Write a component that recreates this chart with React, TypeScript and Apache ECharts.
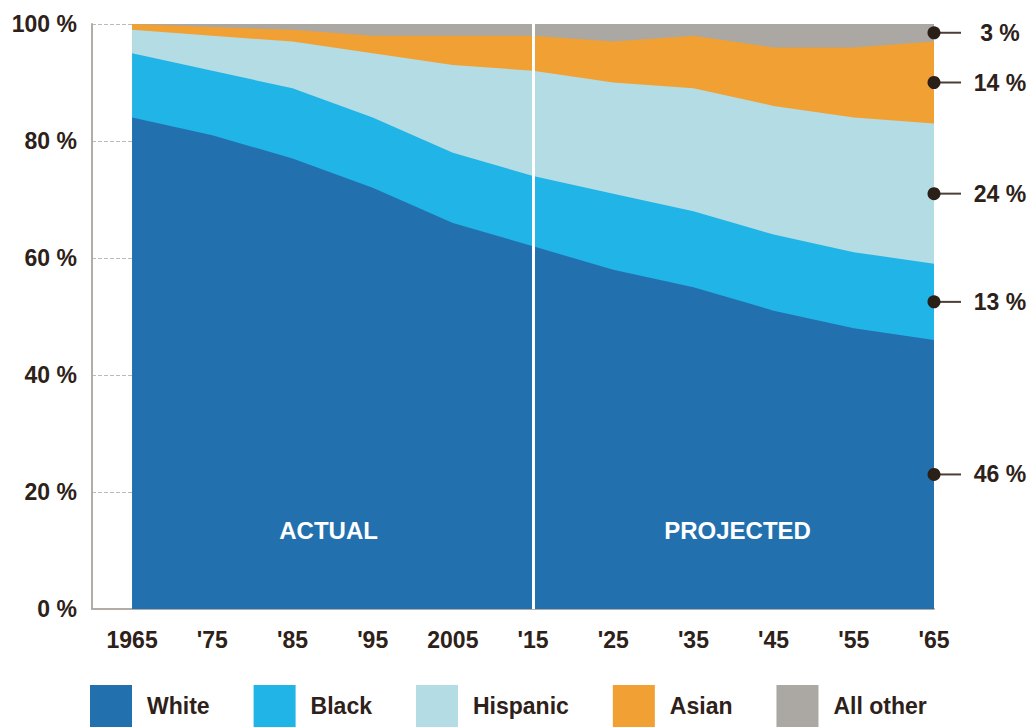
import React, { useEffect, useRef } from "react";
import * as echarts from "echarts";

const years = [1965, 1975, 1985, 1995, 2005, 2015, 2025, 2035, 2045, 2055, 2065];
const yearLabels = ["1965", "'75", "'85", "'95", "2005", "'15", "'25", "'35", "'45", "'55", "'65"];
const white = [84, 81, 77, 72, 66, 62, 58, 55, 51, 48, 46];
const black = [11, 11, 12, 12, 12, 12, 13, 13, 13, 13, 13];
const hispanic = [4, 6, 8, 11, 15, 18, 19, 21, 22, 23, 24];
const asian = [1, 1.5, 2, 3, 5, 6, 7, 9, 10, 12, 14];
const allOther = [0, 0.5, 1, 2, 2, 2, 3, 2, 4, 4, 3];
const seriesNames = ["White", "Black", "Hispanic", "Asian", "All other"];
const colors = ["#2370AF", "#21B4E6", "#B3DCE4", "#F1A034", "#ABA7A3"];
const endLabels = ["46 %", "13 %", "24 %", "14 %", "3 %"];
const splitYear = 2015;
const periodLabels = [
  { text: "ACTUAL", x: 1989.5, y: 13.5 },
  { text: "PROJECTED", x: 2040.5, y: 13.5 },
];

const FONT = "'Liberation Sans', Arial, Helvetica, sans-serif";
const TEXT = "#2D2119";
const FS = 23;

export default function App() {
  const ref = useRef<HTMLDivElement>(null);
  useEffect(() => {
    if (!ref.current) return;
    const chart = echarts.init(ref.current, null, { renderer: "svg" });
    const values = [white, black, hispanic, asian, allOther];
    // cumulative tops of each band (stacked manually)
    const tops: number[][] = [];
    values.forEach((arr, i) => {
      tops.push(arr.map((v, j) => (i > 0 ? tops[i - 1][j] : 0) + v));
    });
    const last = years.length - 1;
    const mids = values.map((arr, i) => [
      years[last],
      (i > 0 ? tops[i - 1][last] : 0) + arr[last] / 2,
      endLabels[i],
    ]);

    // draw the tallest band first so lower bands paint over it
    const areaSeries: any[] = [];
    for (let i = values.length - 1; i >= 0; i--) {
      areaSeries.push({
        name: seriesNames[i],
        type: "line",
        symbol: "none",
        showSymbol: false,
        lineStyle: { width: 0 },
        areaStyle: { color: colors[i], opacity: 1 },
        itemStyle: { color: colors[i] },
        data: tops[i].map((v, j) => [years[j], v]),
        z: 2,
      });
    }
    const top = areaSeries[areaSeries.length - 1];
    top.markLine = {
      silent: true,
      symbol: "none",
      label: { show: false },
      lineStyle: { color: "#ffffff", width: 3, type: "solid" },
      data: [{ xAxis: splitYear }],
    };
    top.markPoint = {
      symbol: "circle",
      symbolSize: 0,
      label: {
        show: true,
        position: "inside",
        color: "#ffffff",
        fontFamily: FONT,
        fontWeight: "bold",
        fontSize: 24,
        formatter: (p: any) => p.name,
      },
      data: periodLabels.map((p) => ({ name: p.text, coord: [p.x, p.y] })),
    };

    chart.setOption({
      animation: false,
      textStyle: { fontFamily: FONT },
      grid: { left: 92, right: 100, top: 24, bottom: 118 },
      legend: {
        left: 85,
        top: 680,
        itemWidth: 42,
        itemHeight: 42,
        itemGap: 44,
        icon: "rect",
        data: seriesNames,
        selectedMode: false,
        textStyle: {
          color: TEXT,
          fontFamily: FONT,
          fontWeight: "bold",
          fontSize: FS,
          padding: [0, 0, 0, 10],
        },
      },
      xAxis: {
        type: "value",
        min: 1960,
        max: 2065,
        axisLine: { show: true, lineStyle: { color: "#B3ABA5", width: 2 } },
        axisTick: { show: false },
        splitLine: { show: false },
        axisLabel: {
          customValues: years,
          formatter: (v: number) => {
            const i = years.indexOf(v);
            return i >= 0 ? yearLabels[i] : "";
          },
          color: TEXT,
          fontFamily: FONT,
          fontWeight: "bold",
          fontSize: FS,
          margin: 19,
          showMinLabel: true,
          showMaxLabel: true,
        },
      },
      yAxis: {
        type: "value",
        min: 0,
        max: 100,
        interval: 20,
        axisLine: { show: true, lineStyle: { color: "#B3ABA5", width: 2 } },
        axisTick: { show: false },
        splitLine: { show: true, lineStyle: { color: "#BDBAB6", type: "dashed", width: 1 } },
        axisLabel: {
          formatter: "{value} %",
          color: TEXT,
          fontFamily: FONT,
          fontWeight: "bold",
          fontSize: FS,
          margin: 15,
        },
      },
      series: [
        ...areaSeries,
        {
          name: "connector",
          type: "scatter",
          clip: false,
          symbol: "rect",
          symbolSize: [27, 2],
          symbolOffset: [13.5, 0],
          itemStyle: { color: "#4A3F38", opacity: 1 },
          data: mids.map((m) => [m[0], m[1]]),
          z: 5,
          silent: true,
        },
        {
          name: "endDots",
          type: "scatter",
          clip: false,
          symbol: "circle",
          symbolSize: 13,
          itemStyle: { color: "#2B2018", opacity: 1 },
          data: mids,
          z: 6,
          silent: true,
          label: {
            show: true,
            position: "inside",
            offset: [66, 0],
            align: "center",
            color: TEXT,
            opacity: 1,
            fontFamily: FONT,
            fontWeight: "bold",
            fontSize: FS,
            formatter: (p: any) => p.value[2],
          },
        },
      ],
    });
    return () => chart.dispose();
  }, []);
  return (
    <div
      ref={ref}
      style={{ position: "absolute", left: 0, top: 0, width: 1034, height: 727 }}
    />
  );
}
